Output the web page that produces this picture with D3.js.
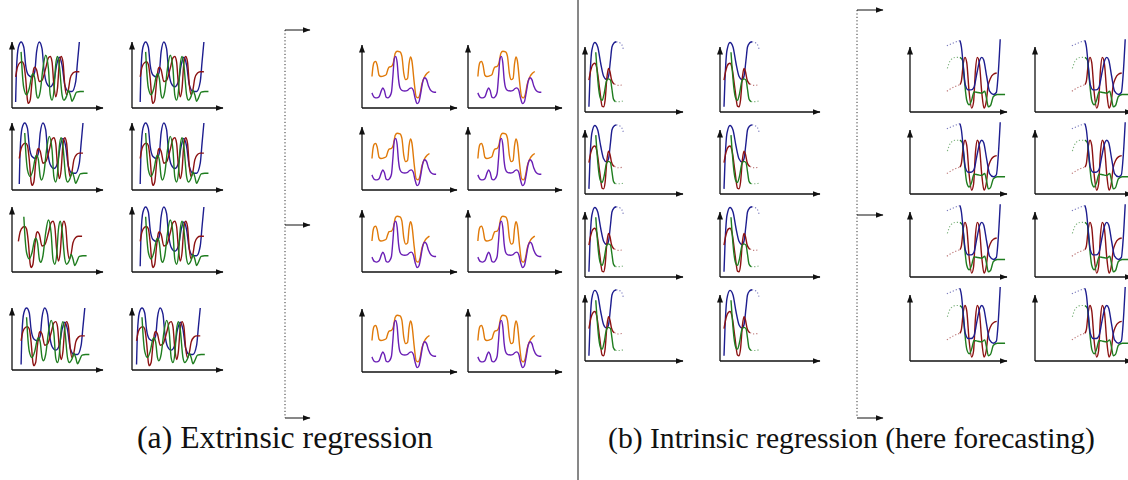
<!DOCTYPE html>
<html>
<head>
<meta charset="utf-8">
<script src="https://cdn.jsdelivr.net/npm/d3@7"></script>
<style>
  body { margin: 0; background: #fff; }
  svg { display: block; }
</style>
</head>
<body>
<svg id="plot" width="1128" height="480"></svg>
<script>

// (a) extrinsic: three input channels
var blueX  = [4, 5, 7, 10, 13, 15, 18, 22, 25, 27, 30, 33, 35, 38, 42, 46, 49, 52, 55, 58, 62, 66, 70, 72, 74];
var blueY  = [9, 60, 92, 100, 92, 65, 50, 47, 55, 85, 100, 90, 60, 38, 32, 40, 65, 77, 65, 35, 25, 25, 40, 70, 100];
var redX   = [4, 6, 9, 11, 13, 15, 17, 18, 20, 22, 24, 25, 27, 30, 33, 37, 40, 42, 44, 46, 48, 50, 52, 54, 56, 58, 60, 62, 64, 67, 70, 74];
var redY   = [47, 62, 69, 70, 66, 45, 12, 7, 12, 40, 60, 62, 58, 40, 42, 60, 76, 78, 70, 35, 17, 30, 68, 78, 70, 35, 20, 28, 45, 53, 55, 55];
var greenX = [10, 11, 13, 16, 19, 22, 23, 25, 27, 28.5, 31, 34, 37, 40, 42, 44, 46, 48, 50, 52, 55, 57, 60, 62, 64, 66, 68, 71, 75, 79];
var greenY = [85, 60, 30, 20, 30, 50, 52, 45, 20, 15, 25, 60, 80, 60, 20, 12, 25, 65, 78, 65, 20, 12, 18, 27, 20, 10, 15, 24, 25, 25];

// (a) extrinsic: two output channels
var orangeX = [10.5, 11.5, 13, 14.5, 16, 18, 20, 23, 25.5, 27, 28.5, 31, 33, 35, 37, 40, 42, 44, 46, 48, 49.5, 51, 52.5, 55, 57, 59, 61, 63, 66, 68.5, 71];
var orangeY = [50, 65, 73, 74, 68, 52, 50, 51, 53, 60, 65, 66, 72, 87, 90, 89, 82, 55, 45, 47, 70, 81, 75, 40, 18, 16, 22, 38, 50, 55, 58];
var purpleX = [10.5, 13, 15.5, 18, 20.5, 22, 23.5, 25.5, 27, 29, 31, 32.5, 34, 35.5, 37, 38.5, 40, 42, 45, 48, 50, 52, 54, 56, 58, 60, 62, 64, 66, 68, 70, 73, 76, 78];
var purpleY = [24, 17, 16, 18, 28, 32, 28, 17, 16, 18, 25, 50, 78, 82, 72, 45, 32, 28, 27, 28, 31, 32, 28, 15, 7, 10, 25, 42, 48, 45, 35, 27, 25, 25];

// (b) intrinsic: history part (solid) and its faded tail (dotted)
var histBlueX  = [4, 5, 7, 10, 13, 16, 19, 22, 24, 26, 27.5, 29.5, 32];
var histBlueY  = [8, 50, 95, 107, 100, 75, 55, 50, 55, 80, 100, 106, 108];
var tailBlueX  = [32, 36, 38.5, 39];
var tailBlueY  = [108, 106, 100, 97];
var histRedX   = [4, 6, 8.5, 10, 12, 15, 17.5, 19, 20.5, 22.5, 24, 25.5, 27, 29, 30];
var histRedY   = [49, 65, 74, 75, 68, 35, 9, 8, 18, 55, 67, 62, 50, 44, 43];
var tailRedX   = [30, 34, 39];
var tailRedY   = [43, 41, 42];
var histGreenX = [11, 12, 14, 16, 17.5, 19.5, 22, 24, 26, 27.5, 29, 31];
var histGreenY = [92, 70, 35, 20, 18, 28, 48, 51, 49, 35, 20, 16];
var tailGreenX = [31, 35, 39];
var tailGreenY = [16, 16, 17];

// (b) intrinsic: forecast part, led in by the dotted end of the history
var leadBlueX  = [38, 46, 51.5];
var leadBlueY  = [102, 107, 110];
var foreBlueX  = [51.5, 53, 55, 57, 60, 63, 66, 69, 72, 74, 76, 79, 82, 86, 89, 91, 93];
var foreBlueY  = [110, 100, 70, 42, 34, 34, 38, 60, 80, 84, 80, 55, 32, 27, 30, 60, 112];
var leadRedX   = [38, 46, 51.5];
var leadRedY   = [32, 39, 42];
var foreRedX   = [51.5, 53, 55, 56.7, 58.5, 61, 63.6, 65.5, 67.5, 69.4, 71.5, 74, 76.3, 78.5, 80.5, 83, 86, 89.4];
var foreRedY   = [42, 48, 75, 84, 76, 30, 6, 15, 65, 84, 75, 30, 6, 15, 40, 52, 58, 60];
var leadGreenX = [38.5, 42, 47, 51.5];
var leadGreenY = [67, 80, 84, 84];
var foreGreenX = [51.5, 54, 56, 58.5, 61, 63.5, 66, 70, 74, 77, 79, 80.7, 83, 86, 90, 98];
var foreGreenY = [84, 80, 50, 18, 11, 18, 31, 30, 29, 32, 20, 8, 10, 24, 27, 27];

var captionA = "(a) Extrinsic regression";
var captionB = "(b) Intrinsic regression (here forecasting)";

var BLUE = "#1d1d8f", RED = "#8c1212", GREEN = "#1f7d1f",
    ORANGE = "#e07a0a", PURPLE = "#6a1fb5";

var svg = d3.select("#plot");

var defs = svg.append("defs");
defs.append("marker")
  .attr("id", "arrow")
  .attr("viewBox", "0 0 8 6")
  .attr("refX", 7.5).attr("refY", 3)
  .attr("markerWidth", 8).attr("markerHeight", 6)
  .attr("markerUnits", "userSpaceOnUse")
  .attr("orient", "auto")
  .append("path")
  .attr("d", "M0,0 L8,3 L0,6 Z")
  .attr("fill", "#111");

function pts(xs, ys) { return d3.zip(xs, ys); }

function drawPlot(frame, series, dx) {
  var x = d3.scaleLinear().domain([0, 100]).range([frame.ax, frame.end]);
  var y = d3.scaleLinear().domain([0, 100]).range([frame.bottom, frame.top]);
  var g = svg.append("g");

  // axes with arrow tips
  g.append("line")
    .attr("x1", frame.ax).attr("y1", frame.bottom)
    .attr("x2", frame.ax).attr("y2", frame.top)
    .attr("stroke", "#111").attr("stroke-width", 1.3)
    .attr("marker-end", "url(#arrow)");
  g.append("line")
    .attr("x1", frame.ax).attr("y1", frame.bottom)
    .attr("x2", frame.end).attr("y2", frame.bottom)
    .attr("stroke", "#111").attr("stroke-width", 1.3)
    .attr("marker-end", "url(#arrow)");

  var line = d3.line()
    .x(function(d) { return x(d[0] + dx); })
    .y(function(d) { return y(d[1]); })
    .curve(d3.curveMonotoneX);

  series.forEach(function(s) {
    g.append("path")
      .attr("d", line(s.points))
      .attr("fill", "none")
      .attr("stroke", s.color)
      .attr("stroke-width", s.dotted ? 1.1 : 1.4)
      .attr("stroke-dasharray", s.dotted ? "1.2,2" : null)
      .attr("opacity", s.dotted ? 0.6 : 1);
  });
}

var inputSeries = [
  { color: BLUE,  points: pts(blueX, blueY) },
  { color: RED,   points: pts(redX, redY) },
  { color: GREEN, points: pts(greenX, greenY) }
];
var noBlueSeries = inputSeries.slice(1);
var outputSeries = [
  { color: ORANGE, points: pts(orangeX, orangeY) },
  { color: PURPLE, points: pts(purpleX, purpleY) }
];
var historySeries = [
  { color: BLUE,  points: pts(histBlueX, histBlueY) },
  { color: BLUE,  points: pts(tailBlueX, tailBlueY), dotted: true },
  { color: RED,   points: pts(histRedX, histRedY) },
  { color: RED,   points: pts(tailRedX, tailRedY), dotted: true },
  { color: GREEN, points: pts(histGreenX, histGreenY) },
  { color: GREEN, points: pts(tailGreenX, tailGreenY), dotted: true }
];
var forecastSeries = [
  { color: BLUE,  points: pts(leadBlueX, leadBlueY), dotted: true },
  { color: RED,   points: pts(leadRedX, leadRedY), dotted: true },
  { color: GREEN, points: pts(leadGreenX, leadGreenY), dotted: true },
  { color: RED,   points: pts(foreRedX, foreRedY) },
  { color: GREEN, points: pts(foreGreenX, foreGreenY) },
  { color: BLUE,  points: pts(foreBlueX, foreBlueY) }
];

// ---- layout of the small plots
var colsA = [{ ax: 12, end: 103 }, { ax: 132, end: 223 }];
var rowsA = [{ top: 42, bottom: 108 }, { top: 123, bottom: 190 },
             { top: 207, bottom: 272 }, { top: 308, bottom: 370 }];
var shiftA = [[0, 5], [4, 5], [3, 5], [6, 1]];

var colsB = [{ ax: 362, end: 457 }, { ax: 468, end: 562 }];
var rowsB = [{ top: 45, bottom: 108 }, { top: 127, bottom: 190 },
             { top: 210, bottom: 272 }, { top: 309, bottom: 372 }];

var colsC = [{ ax: 585, end: 683 }, { ax: 720, end: 820 }];
var colsD = [{ ax: 910, end: 1007 }, { ax: 1035, end: 1132 }];
var rowsC = [{ top: 47, bottom: 112 }, { top: 130, bottom: 194 },
             { top: 212, bottom: 277 }, { top: 295, bottom: 361 }];

function frameOf(col, row) {
  return { ax: col.ax, end: col.end, top: row.top, bottom: row.bottom };
}

rowsA.forEach(function(row, r) {
  colsA.forEach(function(col, c) {
    var s = (r == 2 && c == 0) ? noBlueSeries : inputSeries;
    drawPlot(frameOf(col, row), s, shiftA[r][c]);
  });
});
rowsB.forEach(function(row) {
  colsB.forEach(function(col) { drawPlot(frameOf(col, row), outputSeries, 0); });
});
rowsC.forEach(function(row) {
  colsC.forEach(function(col) { drawPlot(frameOf(col, row), historySeries, 0); });
  colsD.forEach(function(col) { drawPlot(frameOf(col, row), forecastSeries, 0); });
});

// ---- brackets between inputs and outputs
function bracket(xv, x2, ys) {
  svg.append("line")
    .attr("x1", xv).attr("x2", xv)
    .attr("y1", d3.min(ys)).attr("y2", d3.max(ys))
    .attr("stroke", "#333").attr("stroke-width", 1)
    .attr("stroke-dasharray", "1.2,2.2");
  ys.forEach(function(yv) {
    svg.append("line")
      .attr("x1", xv).attr("x2", x2)
      .attr("y1", yv).attr("y2", yv)
      .attr("stroke", "#111").attr("stroke-width", 1)
      .attr("marker-end", "url(#arrow)");
  });
}
bracket(285, 310, [30, 225, 418]);
bracket(857, 883, [10, 215, 418]);

// separator
svg.append("line")
  .attr("x1", 578).attr("x2", 578).attr("y1", 0).attr("y2", 480)
  .attr("stroke", "#111").attr("stroke-width", 1);

// captions, sized to the width they take in the picture
function caption(txt, cx, width) {
  var t = svg.append("text")
    .attr("x", cx).attr("y", 448)
    .attr("text-anchor", "middle")
    .style("font-family", "'Liberation Serif', 'DejaVu Serif', serif")
    .style("font-size", "24px")
    .attr("fill", "#111")
    .text(txt);
  var w = t.node().getComputedTextLength();
  t.style("font-size", (24 * width / w).toFixed(2) + "px");
}
caption(captionA, 285, 296);
caption(captionB, 851.5, 487);
</script>
</body>
</html>
